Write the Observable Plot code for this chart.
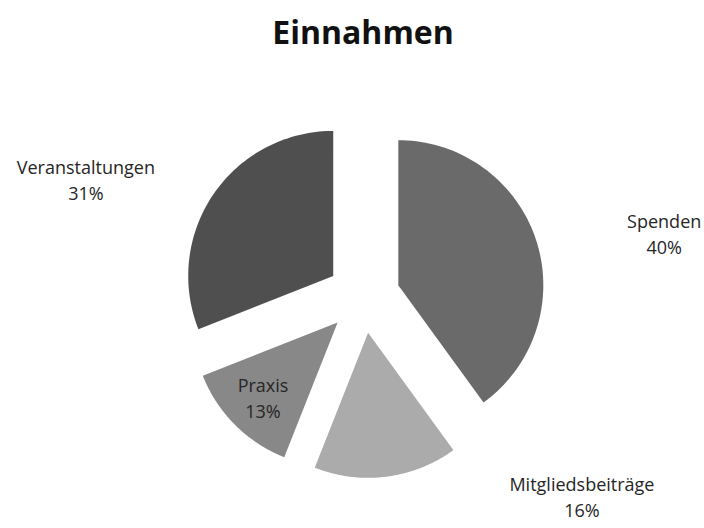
<!DOCTYPE html>
<html><head><meta charset="utf-8">
<script src="https://cdn.jsdelivr.net/npm/d3@7"></script>
<script src="https://cdn.jsdelivr.net/npm/@observablehq/plot@0.6"></script>
<style>
body{margin:0;background:#fff;font-family:"Open Sans",sans-serif;}
#title{height:60px;line-height:64px;text-align:center;font-weight:bold;font-size:32px;color:#111;padding-left:22px;}
</style></head><body>
<div id="title">Einnahmen</div>
<div id="chart"></div>
<script>
const categories = ["Spenden", "Mitgliedsbeiträge", "Praxis", "Veranstaltungen"];
const shares = [40, 16, 13, 31];
const percentLabels = ["40%", "16%", "13%", "31%"];

const colors = ["#6a6a6a", "#ababab", "#888888", "#4f4f4f"];
const W = 704, H = 468, R = 145, CX = 363, CY = 236, EXPLODE = 36.6 / 145;
// label layout (polar, clockwise from top, in radius units)
const labelLayout = {
  "Spenden": {r: 2.12, deg: 78},
  "Mitgliedsbeiträge": {r: 2.04, deg: 132.4},
  "Praxis": {r: 0.98, deg: 225},
  "Veranstaltungen": {r: 2.08, deg: 293}
};

const total = d3.sum(shares);
let acc = 0;
const slices = categories.map((c, i) => {
  const a0 = acc / total * 2 * Math.PI; acc += shares[i];
  const a1 = acc / total * 2 * Math.PI;
  return {c, i, a0, a1, mid: (a0 + a1) / 2};
});
const pts = [];
for (const s of slices) {
  const ox = EXPLODE * Math.sin(s.mid), oy = EXPLODE * Math.cos(s.mid);
  pts.push({c: s.c, x: ox, y: oy});
  const n = 80;
  for (let k = 0; k <= n; k++) {
    const a = s.a0 + (s.a1 - s.a0) * k / n;
    pts.push({c: s.c, x: ox + Math.sin(a), y: oy + Math.cos(a)});
  }
  pts.push({c: s.c, x: ox, y: oy});
}
const labels = slices.map(s => {
  const L = labelLayout[s.c], a = L.deg * Math.PI / 180;
  return {text: s.c + "\n" + percentLabels[s.i], x: L.r * Math.sin(a), y: L.r * Math.cos(a)};
});

const chart = Plot.plot({
  width: W, height: H,
  margin: 0,
  x: {domain: [-CX / R, (W - CX) / R], axis: null},
  y: {domain: [-(H - CY) / R, CY / R], axis: null},
  color: {domain: categories, range: colors},
  style: {fontFamily: "Open Sans, sans-serif", background: "white"},
  marks: [
    Plot.line(pts, {x: "x", y: "y", z: "c", fill: "c", stroke: "none", curve: "linear"}),
    Plot.text(labels, {x: "x", y: "y", text: "text", fontSize: 18, lineHeight: 1.45, fill: "#262626", lineAnchor: "middle"})
  ]
});
document.getElementById("chart").appendChild(chart);
</script>
</body></html>
